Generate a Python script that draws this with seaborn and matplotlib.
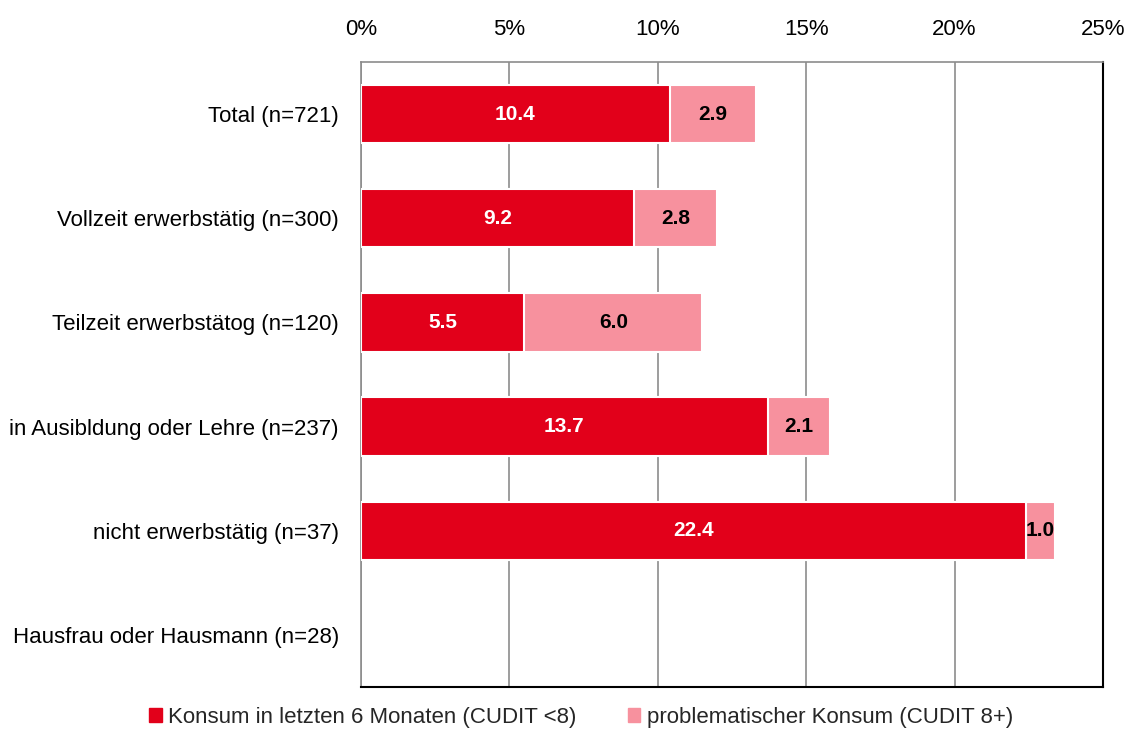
import pandas as pd
import numpy as np
import matplotlib
matplotlib.use("Agg")
import matplotlib.pyplot as plt
import seaborn as sns
from matplotlib.patches import Patch

# Data
categories = ["Total (n=721)", "Vollzeit erwerbstätig (n=300)", "Teilzeit erwerbstätog (n=120)",
              "in Ausibldung oder Lehre (n=237)", "nicht erwerbstätig (n=37)",
              "Hausfrau oder Hausmann (n=28)"]
konsum = [10.4, 9.2, 5.5, 13.7, 22.4, np.nan]
problem = [2.9, 2.8, 6.0, 2.1, 1.0, np.nan]
xticks = [0, 5, 10, 15, 20, 25]
legend_labels = ["Konsum in letzten 6 Monaten (CUDIT <8)", "problematischer Konsum (CUDIT 8+)"]

red = "#E2001A"
pink = "#F7919E"

df = pd.DataFrame({"cat": categories, "konsum": konsum, "problem": problem})
df["total"] = df["konsum"] + df["problem"]

sns.set_theme(style="white")
plt.rcParams["font.family"] = ["Liberation Sans Narrow", "Liberation Sans", "DejaVu Sans"]

fig = plt.figure(figsize=(11.24, 7.56), dpi=100)
ax = fig.add_axes([0.3212, 0.0913, 0.6601, 0.8267])

# stacked: total in pink, konsum in red on top
sns.barplot(data=df, y="cat", x="total", color=pink, saturation=1, width=0.56,
            edgecolor="white", linewidth=1.5, orient="h", ax=ax, zorder=2)
sns.barplot(data=df, y="cat", x="konsum", color=red, saturation=1, width=0.56,
            edgecolor="white", linewidth=1.5, orient="h", ax=ax, zorder=3)

for i, row in df.iterrows():
    if pd.isna(row["konsum"]):
        continue
    ax.text(row["konsum"] / 2, i, f"{row['konsum']:.1f}", ha="center", va="center",
            color="white", fontsize=15, fontweight="bold", zorder=4)
    ax.text(row["konsum"] + row["problem"] / 2, i, f"{row['problem']:.1f}", ha="center",
            va="center", color="black", fontsize=15, fontweight="bold", zorder=4)

ax.set_xlim(0, 25)
ax.set_ylim(5.5, -0.5)
ax.set_xticks(xticks)
ax.set_xticklabels([f"{t}%" for t in xticks])
ax.xaxis.tick_top()
ax.tick_params(axis="x", length=0, pad=16, labelsize=16, labelcolor="black")
ax.tick_params(axis="y", length=0, pad=16, labelsize=16, labelcolor="black")
ax.set_xlabel("")
ax.set_ylabel("")
ax.grid(axis="x", color="#8c8c8c", linewidth=1.2, zorder=0)
ax.set_axisbelow(True)

for side in ["top", "left"]:
    ax.spines[side].set_color("#8c8c8c")
    ax.spines[side].set_linewidth(1.2)
for side in ["right", "bottom"]:
    ax.spines[side].set_color("black")
    ax.spines[side].set_linewidth(1.5)

handles = [Patch(color=red), Patch(color=pink)]
fig.legend(handles, legend_labels, loc="center", bbox_to_anchor=(0.517, 0.051), ncol=2,
           frameon=False, fontsize=16, handlelength=0.55, handleheight=0.55,
           handletextpad=0.3, columnspacing=2.3)

fig.savefig("out.png", dpi=100)
